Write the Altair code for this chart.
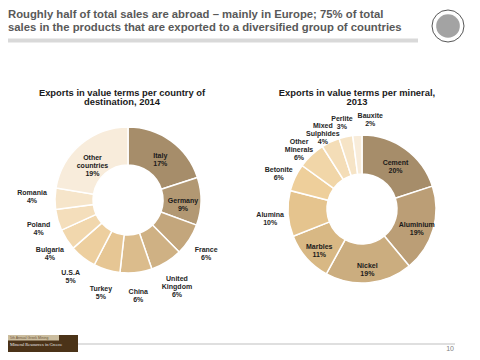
import altair as alt
import pandas as pd

# ---- data ----
TITLE_LINES = [
    "Roughly half of total sales are abroad \u2013 mainly in Europe; 75%  of total",
    "sales  in the products that are exported to a diversified group of countries",
]
LEFT_TITLE = ["Exports in value terms per country of", "destination, 2014"]
RIGHT_TITLE = ["Exports in value terms per mineral,", "2013"]

countries = ["Italy", "Germany", "France", "United Kingdom", "China", "Turkey",
             "U.S.A", "Bulgaria", "Poland", "Romania", "Other countries"]
country_share = [17, 9, 6, 6, 6, 5, 5, 4, 4, 4, 19]
country_inside = ["Italy", "Germany", "Other countries"]

minerals = ["Cement", "Aluminium", "Nickel", "Marbles", "Alumina", "Betonite",
            "Other Minerals", "Mixed Sulphides", "Perlite", "Bauxite"]
mineral_share = [20, 19, 19, 11, 10, 6, 6, 4, 3, 2]
mineral_inside = ["Cement", "Aluminium", "Nickel", "Marbles"]

PAGE_NUMBER = "10"
FOOTER_TEXT = ["5th Annual Greek Mining", "Mineral Resources in Greece"]

# ---- styles ----
LEFT_COLORS = ["#a68d6a", "#b29873", "#c3a67c", "#cfb184", "#dbbc8c", "#e6c694",
               "#edcf9f", "#f1d7ad", "#f4debb", "#f6e5ca", "#f8ecdb"]
RIGHT_COLORS = ["#a68d6a", "#bb9e76", "#cbad7f", "#d8b884", "#e5c48e", "#eecf9b",
                "#f1d6a8", "#f4ddb7", "#f6e4c6", "#f8ecda"]
# labels nudged sideways to avoid collisions (label name -> (dx, dy))
LABEL_NUDGE = {"Bauxite": (14, -1), "Romania": (-3, -5)}
FONT = "Liberation Sans"
W, H = 464, 344

dummy = alt.Data(values=[{"a": 1}])


def donut(names, vals, colors, inside, cx, cy, r_in, r_out, r_lab_in, r_lab_out):
    labels = [n.replace(" ", "\n") + "\n" + f"{v}%" for n, v in zip(names, vals)]
    df = pd.DataFrame({
        "name": names,
        "value": vals,
        "idx": list(range(len(names))),
        "lab_in": [l if n in inside else "" for n, l in zip(names, labels)],
    })
    for n in names:
        pass
    base = alt.Chart(df).encode(
        theta=alt.Theta("value:Q", stack=True),
        order=alt.Order("idx:Q"),
        x=alt.value(cx),
        y=alt.value(cy),
    )
    arc = base.mark_arc(innerRadius=r_in, outerRadius=r_out, stroke="white",
                        strokeWidth=1.5).encode(
        color=alt.Color("name:N", scale=alt.Scale(domain=names, range=colors),
                        legend=None)
    )
    text_style = dict(fontSize=7, fontWeight="bold", font=FONT, lineBreak="\n",
                      lineHeight=8)
    layers = [arc,
              base.mark_text(radius=r_lab_in, color="#1a1a1a", **text_style).encode(
                  text="lab_in:N")]
    # outside labels: plain ones in one layer, nudged ones each in their own layer
    groups = {(0, 0): []}
    for n in names:
        if n not in inside:
            groups.setdefault(LABEL_NUDGE.get(n, (0, 0)), []).append(n)
    for gi, ((dx, dy), members) in enumerate(groups.items()):
        col = f"lab_out{gi}"
        df[col] = [l if n in members else "" for n, l in zip(names, labels)]
        layers.append(
            base.mark_text(radius=r_lab_out, dx=dx, dy=dy, color="#262626",
                           **text_style).encode(text=f"{col}:N"))
    # re-bind data with new columns
    layers = [l.properties(data=df) for l in layers]
    return alt.layer(*layers)


left = donut(countries, country_share, LEFT_COLORS, country_inside,
             120, 192, 35, 73, 55, 93)
right = donut(minerals, mineral_share, RIGHT_COLORS, mineral_inside,
              354, 201, 35, 74, 57, 92)

title_layers = [
    alt.Chart(dummy).mark_text(align="left", baseline="alphabetic", fontSize=11.3,
                               fontWeight="bold", font=FONT, color="#595959").encode(
        x=alt.value(0), y=alt.value(9.5 + 13.5 * i), text=alt.value(t))
    for i, t in enumerate(TITLE_LINES)
]
underline = alt.Chart(dummy).mark_rule(color="#d9d9d9", strokeWidth=4).encode(
    x=alt.value(0), x2=alt.value(410), y=alt.value(32.5))

sub_layers = []
for cx, lines in [(114, LEFT_TITLE), (349, RIGHT_TITLE)]:
    for i, t in enumerate(lines):
        sub_layers.append(
            alt.Chart(dummy).mark_text(align="center", baseline="alphabetic", fontSize=9.4,
                                       fontWeight="bold", font=FONT, color="#1a1a1a").encode(
                x=alt.value(cx), y=alt.value(87.5 + 9.5 * i), text=alt.value(t)))

# logo
logo_outer = alt.Chart(dummy).mark_point(shape="circle", filled=False, size=1024,
                                         color="#111111", strokeWidth=1).encode(
    x=alt.value(440), y=alt.value(18))
logo_inner = alt.Chart(dummy).mark_point(shape="circle", filled=True, size=560,
                                         color="#333333", opacity=0.45).encode(
    x=alt.value(440), y=alt.value(18))

# footer
footer_line = alt.Chart(dummy).mark_rule(color="#bfbfbf", strokeWidth=1).encode(
    x=alt.value(70), x2=alt.value(447), y=alt.value(336))
footer_box = alt.Chart(dummy).mark_rect(color="#4b3318").encode(
    x=alt.value(0), x2=alt.value(70), y=alt.value(327), y2=alt.value(344))
footer_strip = alt.Chart(dummy).mark_rect(color="#cbbd9f").encode(
    x=alt.value(0), x2=alt.value(51), y=alt.value(327), y2=alt.value(332.5))
footer_t1 = alt.Chart(dummy).mark_text(align="left", baseline="middle", fontSize=3.5,
                                       font=FONT, color="#6b5436").encode(
    x=alt.value(2), y=alt.value(330), text=alt.value(FOOTER_TEXT[0]))
footer_t2 = alt.Chart(dummy).mark_text(align="left", baseline="middle", fontSize=4.5,
                                       font="Liberation Serif", color="#eeeeee").encode(
    x=alt.value(2), y=alt.value(336.5), text=alt.value(FOOTER_TEXT[1]))
page_no = alt.Chart(dummy).mark_text(align="right", baseline="alphabetic", fontSize=7,
                                     font=FONT, color="#7f7f7f").encode(
    x=alt.value(446), y=alt.value(343), text=alt.value(PAGE_NUMBER))

chart = alt.layer(
    left, right, *title_layers, underline, *sub_layers, logo_inner, logo_outer,
    footer_line, footer_box, footer_strip, footer_t1, footer_t2, page_no
).resolve_scale(theta="independent", color="independent").properties(
    width=W, height=H, padding=0, autosize=alt.AutoSizeParams(type="none")
).configure_view(stroke=None)

chart.save("out.html", embed_options={"renderer": "svg", "actions": False})
